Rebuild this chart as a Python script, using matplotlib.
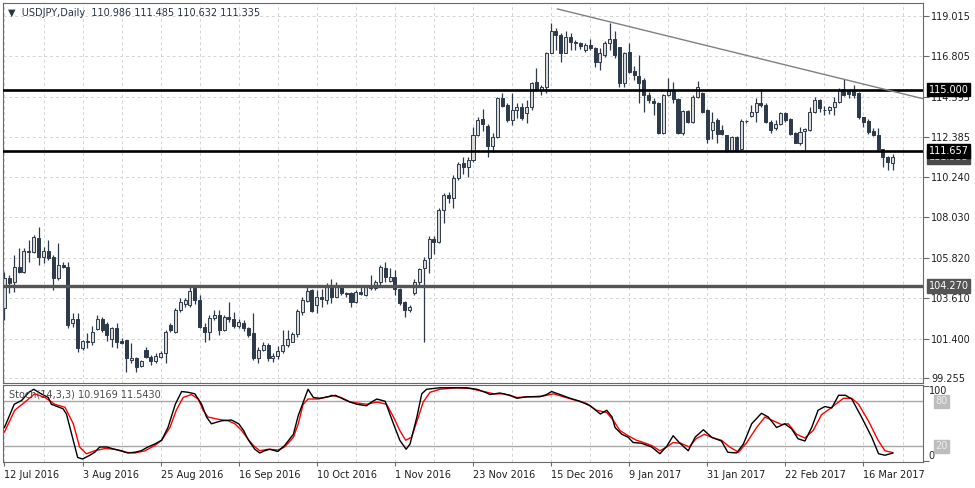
import matplotlib
matplotlib.use("Agg")
import matplotlib.pyplot as plt
import matplotlib.transforms as mtransforms

# daily candles, 12 Jul 2016 .. 24 Mar 2017 (bar index = position)
opens = [103.05, 104.69, 104.51, 105.33, 105.06, 106.20, 106.15, 106.88, 105.88, 106.18,
         105.88, 104.69, 105.42, 105.33, 102.27, 102.45, 100.87, 101.27, 101.24, 101.93,
         102.47, 102.20, 101.40, 101.97, 101.29, 101.33, 100.24, 100.33, 99.90, 100.78,
         100.42, 100.20, 100.42, 100.60, 102.15, 101.78, 102.96, 103.29, 103.24, 104.15,
         103.50, 102.06, 101.78, 102.51, 102.69, 101.87, 102.60, 102.46, 102.10, 102.28,
         101.97, 101.73, 100.33, 100.78, 101.06, 100.33, 100.46, 100.70, 101.06, 101.24,
         101.66, 102.87, 103.47, 104.06, 103.24, 103.66, 103.51, 104.24, 103.70, 104.28,
         103.88, 103.91, 103.42, 103.97, 103.79, 104.28, 104.15, 104.51, 105.24, 104.57,
         104.79, 104.10, 103.42, 102.96, 103.88, 104.51, 105.24, 105.79, 106.82, 106.70,
         108.43, 109.24, 109.06, 110.15, 110.97, 110.79, 111.15, 112.52, 113.38, 113.01,
         111.92, 112.43, 114.52, 114.16, 113.34, 113.88, 114.03, 113.74, 114.03, 115.43,
         114.98, 115.16, 117.00, 118.20, 117.98, 117.00, 117.89, 117.58, 117.56, 117.16,
         117.43, 117.25, 116.52, 116.88, 117.52, 117.74, 117.30, 115.34, 117.07, 116.03,
         115.74, 115.50, 114.70, 114.39, 114.28, 112.61, 114.70, 114.92, 114.47, 112.65,
         113.85, 113.25, 114.57, 114.80, 113.88, 112.79, 113.34, 112.79, 112.52, 111.66,
         112.43, 111.74, 113.28, 113.56, 113.79, 114.28, 114.16, 113.25, 112.88, 113.12,
         113.74, 113.37, 112.65, 112.10, 112.75, 112.80, 113.79, 114.43, 113.90, 113.90,
         114.06, 114.34, 115.01, 114.90, 114.90, 114.79, 113.52, 113.30, 112.75, 112.52,
         111.74, 111.34, 110.986]
highs = [105.06, 104.88, 105.97, 106.33, 106.33, 106.79, 107.06, 107.51, 106.42, 106.79,
         105.97, 106.60, 105.60, 105.60, 102.78, 102.78, 101.33, 101.69, 102.09, 102.69,
         102.60, 102.30, 102.05, 102.27, 101.42, 101.33, 101.15, 100.40, 100.25, 100.97,
         100.51, 100.60, 100.75, 101.87, 102.24, 103.10, 103.60, 103.60, 104.33, 104.30,
         103.80, 102.24, 102.69, 102.97, 102.97, 102.70, 103.40, 102.88, 102.50, 102.40,
         102.05, 102.80, 100.95, 101.20, 101.15, 100.60, 101.00, 101.87, 101.87, 101.75,
         103.00, 103.69, 104.20, 104.10, 104.06, 104.10, 104.42, 104.64, 104.51, 104.33,
         103.97, 103.97, 104.06, 104.24, 104.28, 104.88, 104.60, 105.42, 105.60, 105.24,
         105.15, 104.15, 103.47, 103.24, 104.64, 105.24, 105.88, 107.00, 107.00, 108.52,
         109.33, 109.43, 110.33, 111.06, 111.34, 111.34, 112.97, 113.52, 113.92, 113.10,
         112.61, 114.57, 114.79, 114.25, 114.79, 114.25, 114.25, 114.43, 115.43, 116.16,
         115.25, 117.07, 118.65, 118.34, 118.07, 118.20, 118.07, 117.70, 117.61, 117.56,
         117.74, 117.34, 117.25, 117.67, 118.65, 118.20, 117.34, 117.07, 117.52, 116.30,
         116.89, 115.61, 114.88, 114.52, 114.33, 114.75, 115.61, 115.43, 114.52, 113.88,
         113.90, 114.70, 115.48, 114.88, 113.92, 113.79, 113.43, 113.06, 112.52, 112.47,
         112.47, 113.37, 113.34, 114.16, 114.52, 115.01, 114.28, 113.34, 113.34, 113.79,
         113.79, 113.43, 112.70, 112.97, 112.88, 114.06, 114.61, 114.47, 114.10, 114.10,
         114.57, 115.06, 115.56, 115.01, 115.25, 114.88, 113.52, 113.37, 112.88, 112.88,
         111.74, 111.37, 111.485]
lows = [102.42, 103.87, 103.97, 105.00, 105.00, 105.60, 106.10, 105.42, 105.51, 105.69,
        104.06, 104.60, 105.24, 101.96, 102.05, 100.69, 100.78, 100.87, 101.05, 101.87,
        101.78, 101.30, 100.96, 100.87, 101.11, 99.60, 100.06, 99.60, 99.83, 100.33,
        99.97, 100.06, 100.33, 100.06, 101.78, 101.70, 102.87, 103.15, 103.15, 103.30,
        101.96, 101.24, 101.33, 102.40, 101.60, 101.80, 102.33, 101.97, 101.97, 101.80,
        101.50, 100.24, 100.06, 100.70, 100.20, 100.10, 100.30, 100.60, 100.97, 101.20,
        101.50, 102.69, 103.42, 102.87, 102.78, 103.15, 103.29, 103.36, 103.66, 103.79,
        103.66, 103.15, 103.36, 103.79, 103.73, 104.06, 104.06, 104.33, 104.51, 104.51,
        103.79, 103.24, 102.56, 102.87, 103.79, 104.33, 101.24, 104.97, 106.02, 106.60,
        107.73, 108.79, 108.52, 110.06, 110.40, 110.24, 111.06, 112.47, 112.75, 111.34,
        111.61, 112.34, 114.06, 113.25, 113.06, 113.43, 113.34, 113.16, 113.88, 114.92,
        114.70, 114.79, 116.98, 117.16, 116.52, 116.98, 117.16, 117.16, 117.20, 117.07,
        117.16, 116.25, 116.07, 116.80, 117.16, 116.70, 115.16, 115.16, 115.90, 115.50,
        114.25, 113.79, 114.25, 113.61, 112.57, 112.57, 114.65, 114.25, 112.60, 112.52,
        113.20, 113.16, 114.52, 113.70, 112.06, 112.28, 112.06, 112.52, 111.61, 111.61,
        111.61, 111.70, 113.16, 113.52, 113.25, 114.06, 113.16, 112.61, 112.79, 113.06,
        113.25, 112.52, 112.06, 111.97, 111.70, 112.75, 113.70, 113.79, 113.61, 113.66,
        113.61, 114.28, 114.65, 114.52, 114.52, 113.37, 112.97, 112.57, 112.47, 111.66,
        110.75, 110.60, 110.632]
closes = [104.69, 104.45, 105.33, 105.06, 106.20, 106.15, 106.97, 105.88, 106.18, 105.79,
          104.69, 105.42, 105.29, 102.15, 102.45, 100.87, 101.27, 101.24, 101.78, 102.47,
          101.87, 101.60, 101.97, 101.24, 101.15, 100.33, 100.33, 99.87, 100.20, 100.42,
          100.20, 100.45, 100.64, 101.78, 101.87, 102.96, 103.42, 103.51, 104.02, 103.51,
          102.02, 101.78, 102.51, 102.69, 101.87, 102.60, 102.46, 102.10, 102.33, 101.97,
          101.60, 100.33, 100.78, 101.06, 100.33, 100.46, 100.75, 101.06, 101.37, 101.66,
          102.93, 103.51, 104.02, 102.93, 103.70, 103.57, 104.24, 103.70, 104.24, 103.88,
          103.86, 103.42, 103.97, 103.82, 104.24, 104.15, 104.51, 105.33, 104.75, 104.79,
          104.10, 103.37, 102.96, 103.15, 104.51, 105.19, 105.70, 106.82, 106.70, 108.43,
          109.24, 109.06, 110.15, 110.92, 110.79, 111.15, 112.52, 113.34, 113.12, 111.92,
          112.43, 114.52, 114.10, 113.34, 113.88, 114.03, 113.43, 114.03, 115.38, 114.98,
          115.16, 117.00, 118.20, 117.98, 117.00, 117.89, 117.58, 117.56, 117.38, 117.43,
          117.25, 116.52, 117.00, 117.52, 117.74, 116.88, 115.34, 117.00, 115.98, 115.79,
          115.34, 114.70, 114.43, 114.25, 112.61, 114.70, 114.92, 114.47, 112.65, 113.85,
          113.25, 114.57, 115.16, 113.79, 112.28, 113.25, 112.57, 112.57, 111.66, 112.43,
          111.70, 113.30, 113.30, 113.80, 114.28, 114.16, 113.25, 112.79, 113.12, 113.70,
          113.34, 112.57, 112.10, 112.70, 112.83, 113.79, 114.43, 114.00, 113.88, 114.06,
          114.34, 114.97, 114.70, 114.75, 114.70, 113.48, 113.25, 112.70, 112.52, 111.74,
          111.30, 111.06, 111.335]

date_labels = ["12 Jul 2016", "3 Aug 2016", "25 Aug 2016", "16 Sep 2016", "10 Oct 2016",
               "1 Nov 2016", "23 Nov 2016", "15 Dec 2016", "9 Jan 2017", "31 Jan 2017",
               "22 Feb 2017", "16 Mar 2017"]
price_ticks = [119.015, 116.805, 114.595, 112.385, 110.240, 108.030, 105.820, 103.610,
               101.400, 99.255]

# drawn objects
level_prices = [115.000, 111.657, 104.270]
level_colors = ["black", "black", "#555555"]
trend_bars = [113.3, 188.5]
trend_prices = [119.40, 114.48]
last_price = 111.335

# stochastic (14,3,3)
k_bars = [0, 2, 3.5, 5, 6, 7.5, 9, 9.6, 12, 12.7, 15, 16, 17.5, 18.5, 19.5, 21, 22.5, 24,
          25.3, 26.7, 28, 29.4, 30.8, 32.2, 33.5, 35, 36.3, 37.6, 39, 40.4, 41.4, 42.4,
          44.5, 46.5, 48, 49, 50, 51.3, 52.3, 53.3, 54.4, 56, 57.4, 59.2, 60.2, 62.2,
          63.3, 64.6, 66.3, 67.8, 69.4, 70.8, 72.2, 74.2, 75.2, 76.3, 78, 79.7, 81,
          82.3, 83.1, 84.5, 85.5, 86.5, 89.2, 91.9, 94.7, 96.8, 98.5, 99.5, 101.5,
          103.6, 105, 107, 109.7, 111.1, 112.1, 113.8, 115.9, 117.9, 120, 122.1, 123.4,
          124.5, 125.1, 126.5, 127.8, 128.8, 130.5, 132.6, 134.3, 135.7, 137, 138.4,
          140.1, 141.5, 143.2, 144.9, 146.9, 148.2, 150, 151.4, 153.1, 155.1, 156.5,
          158.2, 159.9, 161.3, 162.6, 164, 165.4, 166.7, 168.1, 169.5, 170.9, 172.3,
          173.6, 175.6, 177.7, 179.1, 180.4, 182]
k_vals = [45, 76, 81, 92, 96, 90, 85, 76, 70, 63, 5, 3, 8, 12, 19, 19, 16, 14,
          11, 12, 14, 19, 23, 28, 45, 76, 93, 92, 90, 76, 59, 50,
          54, 55, 50, 41, 28, 16, 11, 14, 16, 13, 21, 36, 61, 96,
          85, 84, 86, 88, 83, 79, 76, 74, 79, 83, 80, 50, 28,
          16, 23, 59, 90, 96, 98, 98, 98, 96, 92, 89, 91,
          88, 84, 86, 86, 89, 93, 89, 84, 80, 74, 63, 68,
          59, 45, 36, 32, 25, 24, 19, 10, 20, 34, 24,
          14, 32, 42, 32, 27, 12, 11, 23, 50, 64, 59,
          45, 50, 43, 30, 27, 45, 68, 73, 71, 88, 88,
          83, 59, 32, 10, 8, 10.9169]
d_bars = [0, 2.1, 4.2, 6.2, 8.3, 10.3, 12.4, 14.1, 15.4, 16.8, 18.5, 20.6, 22.6, 24.7,
          26.7, 28.8, 30.8, 32.2, 33.9, 35.2, 36.6, 38.3, 39.7, 40.7, 41.7, 43.8, 45.8,
          47.2, 48.6, 49.6, 51, 52.3, 54, 56.1, 57.4, 59.2, 60.2, 61.2, 62.2, 64.3, 66.3,
          67, 69, 70.8, 74.2, 76.3, 78.3, 79.7, 81, 82.2, 83.4, 84.8, 85.8, 87.2, 89.2,
          92.6, 95.4, 98.2, 100.2, 102.2, 105, 107.7, 110.4, 112.5, 114.5, 117.2, 119.3,
          121.3, 123.4, 124.8, 126.1, 127.8, 129.5, 130.5, 132.6, 134.3, 135.7, 137,
          138.6, 140.3, 141.7, 143.4, 145.2, 146.9, 148.6, 150.4, 152.1, 154.1, 155.8,
          157.5, 159.2, 160.6, 162.3, 164, 165.7, 167.4, 169.1, 170.9, 171.9, 173.6, 175,
          177, 179, 180.4, 182]
d_vals = [39, 68, 79, 90, 85, 76, 72, 50, 19, 10, 14, 17, 16, 12,
          11, 14, 21, 28, 45, 68, 85, 89, 83, 68, 59, 56, 54,
          50, 41, 32, 21, 14, 16, 15, 19, 32, 50, 76, 83, 83, 86,
          88, 85, 79, 76, 79, 76, 59, 41, 28, 32, 59, 79, 92, 96,
          98, 97, 93, 90, 90, 85, 86, 87, 90, 86, 81, 77,
          68, 65, 54, 41, 34, 28, 26, 21, 14, 19, 25,
          24, 19, 30, 36, 31, 28, 19, 12, 25, 45, 59,
          54, 49, 50, 36, 31, 41, 62, 70, 79, 84, 84, 76,
          54, 28, 14, 11.543]
stoch_levels = [80, 20]

W, H = 975, 488
dark = "#2d3a4b"
light = "#d9d9d9"
grid_c = "#d4d4d4"
frame_c = "#6a6a6a"
txt_c = "#1e1e1e"


def rect(x0, y0, x1, y1):
    return [x0 / W, 1 - y1 / H, (x1 - x0) / W, (y1 - y0) / H]


plt.rcParams["font.family"] = ["DejaVu Sans"]
fig = plt.figure(figsize=(W / 100, H / 100), dpi=100)
ax = fig.add_axes(rect(3, 3, 923, 383))
ax2 = fig.add_axes(rect(3, 385, 923, 462), sharex=ax)

n = len(closes)
xs = list(range(n))

# candles
ax.vlines(xs, lows, highs, color=dark, lw=0.9, zorder=2)
bottoms = [min(o, c) for o, c in zip(opens, closes)]
heights = [max(abs(c - o), 0.03) for o, c in zip(opens, closes)]
fills = [light if c >= o else dark for o, c in zip(opens, closes)]
ax.bar(xs, heights, bottom=bottoms, width=0.62, color=fills, edgecolor=dark,
       linewidth=0.7, zorder=2.5)

# lines drawn on chart
for p, col in zip(level_prices, level_colors):
    ax.axhline(p, color=col, lw=2.4 if col != "black" else 1.9, zorder=4)
ax.plot(trend_bars, trend_prices, color="#808080", lw=1.0, zorder=4)

ax.set_xlim(-0.3, 188.2)
ax.set_ylim(98.98, 119.725)

ax.yaxis.tick_right()
ax.set_yticks(price_ticks)
ax.set_yticklabels(["%.3f" % t for t in price_ticks])
ax.tick_params(axis="y", length=4, pad=2, labelsize=7, colors=frame_c, labelcolor=txt_c)
ax.tick_params(axis="x", which="both", length=0, labelbottom=False)

major = list(range(0, 189, 16))
minor = list(range(8, 189, 16))
for a in (ax, ax2):
    a.set_xticks(major)
    a.set_xticks(minor, minor=True)
    a.grid(True, axis="x", which="both", color=grid_c, lw=0.7, linestyle=(0, (3, 3)))
    for s in a.spines.values():
        s.set_color(frame_c)
        s.set_linewidth(0.8)
ax.grid(True, axis="y", color=grid_c, lw=0.7, linestyle=(0, (3, 3)))
ax.set_axisbelow(True)
ax2.set_axisbelow(True)

# right side price boxes
btrans = mtransforms.blended_transform_factory(ax.transAxes, ax.transData)
box_items = [(last_price, "#4a4a4a"), (level_prices[2], "#555555"),
             (level_prices[1], "black"), (level_prices[0], "black")]
for p, col in box_items:
    ax.text(1.006, p, "%.3f" % p, transform=btrans, fontsize=7, color="white",
            va="center", ha="left", clip_on=False, zorder=10,
            bbox=dict(boxstyle="square,pad=0.2", fc=col, ec=col))

ax.text(0.005, 0.975, "\u25bc  USDJPY,Daily  %.3f %.3f %.3f %.3f"
        % (opens[-1], highs[-1], lows[-1], closes[-1]),
        transform=ax.transAxes, fontsize=7, color="#273546", va="center", ha="left")

# stochastic panel
for lv in stoch_levels:
    ax2.axhline(lv, color="#a8a8a8", lw=1.0, zorder=1)
ax2.plot(d_bars, d_vals, color="red", lw=1.0, zorder=3)
ax2.plot(k_bars, k_vals, color="black", lw=1.0, zorder=3.5)
ax2.set_ylim(-1, 101.7)

ax2.yaxis.tick_right()
ax2.set_yticks([100, 0])
ax2.set_yticklabels([])
ax2.tick_params(axis="y", length=4, colors=frame_c)
btrans2 = mtransforms.blended_transform_factory(ax2.transAxes, ax2.transData)
ax2.text(1.006, 100, "100", transform=btrans2, fontsize=7, color=txt_c, va="top",
         ha="left", clip_on=False)
ax2.text(1.006, 0, "0", transform=btrans2, fontsize=7, color=txt_c, va="bottom",
         ha="left", clip_on=False)
for lv in stoch_levels:
    ax2.text(1.013, lv, str(lv), transform=btrans2, fontsize=7, color="#eeeeee",
             va="center", ha="left", clip_on=False, zorder=10,
             bbox=dict(boxstyle="square,pad=0.15", fc="#bdbdbd", ec="#bdbdbd"))

ax2.text(0.006, 0.88, "Stoch(14,3,3) %.4f %.4f" % (k_vals[-1], d_vals[-1]),
         transform=ax2.transAxes, fontsize=7, color="#4a4a4a", va="center", ha="left",
         zorder=5)

ax2.set_xticklabels(date_labels, ha="left")
ax2.tick_params(axis="x", which="major", length=3, pad=3, labelsize=7,
                colors=frame_c, labelcolor=txt_c)
ax2.tick_params(axis="x", which="minor", length=0)

fig.savefig("out.png", dpi=100, facecolor="white")
